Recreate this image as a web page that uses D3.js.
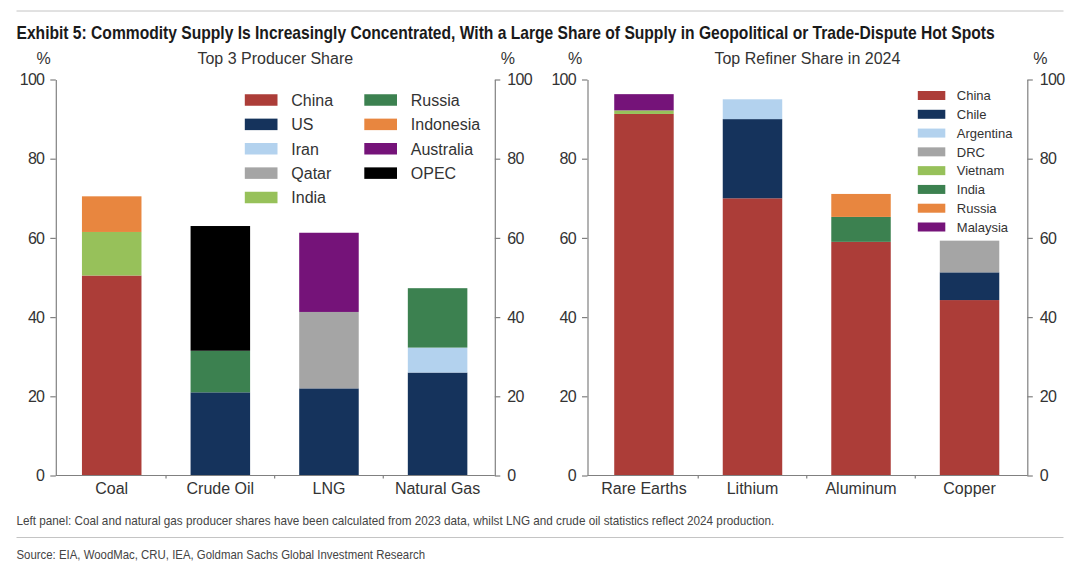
<!DOCTYPE html>
<html>
<head>
<meta charset="utf-8">
<script src="https://cdn.jsdelivr.net/npm/d3@7"></script>
<style>
  html, body { margin: 0; padding: 0; background: #fff; }
  svg { display: block; }
  text { font-family: "Liberation Sans", Arial, sans-serif; }
</style>
</head>
<body>
<div id="chart"></div>
<script>
var titleText = 'Exhibit 5: Commodity Supply Is Increasingly Concentrated, With a Large Share of Supply in Geopolitical or Trade-Dispute Hot Spots';
var noteText = 'Left panel: Coal and natural gas producer shares have been calculated from 2023 data, whilst LNG and crude oil statistics reflect 2024 production.';
var sourceText = 'Source: EIA, WoodMac, CRU, IEA, Goldman Sachs Global Investment Research';

var yTicks = [0, 20, 40, 60, 80, 100];

// left panel
var producerCategories = ['Coal', 'Crude Oil', 'LNG', 'Natural Gas'];
var producerNames = ['China', 'US', 'Iran', 'Qatar', 'India', 'Russia', 'Indonesia', 'Australia', 'OPEC'];
var coalStack = [['China', 50.5], ['India', 11], ['Indonesia', 9]];
var crudeStack = [['US', 21], ['Russia', 10.5], ['OPEC', 31.5]];
var lngStack = [['US', 22], ['Qatar', 19.3], ['Australia', 20]];
var gasStack = [['US', 26], ['Iran', 6.3], ['Russia', 15]];

// right panel
var refinerCategories = ['Rare Earths', 'Lithium', 'Aluminum', 'Copper'];
var refinerNames = ['China', 'Chile', 'Argentina', 'DRC', 'Vietnam', 'India', 'Russia', 'Malaysia'];
var rareStack = [['China', 91.3], ['Vietnam', 0.9], ['Malaysia', 4.1]];
var lithiumStack = [['China', 70], ['Chile', 20], ['Argentina', 5]];
var aluminumStack = [['China', 59], ['India', 6.3], ['Russia', 5.8]];
var copperStack = [['China', 44.3], ['Chile', 7], ['DRC', 8]];

var countryNames = ['China', 'US', 'Chile', 'Iran', 'Argentina', 'Qatar', 'DRC', 'India', 'Vietnam', 'Russia', 'Indonesia', 'Australia', 'Malaysia', 'OPEC'];
var countryColors = ['#ac3d38', '#15335c', '#15335c', '#b3d2ee', '#b3d2ee', '#a5a5a5', '#a5a5a5', '#97c15a', '#97c15a', '#3c8150', '#e8863f', '#751379', '#751379', '#000000'];

var width = 1080, height = 577;
var textColor = '#333';
var axisColor = '#808080';

// India and Russia change colour between the two panels
var leftColor = d3.scaleOrdinal().domain(countryNames).range(countryColors);
var rightColor = function(name) {
    if (name == 'India') return leftColor('Russia');
    if (name == 'Russia') return leftColor('Indonesia');
    return leftColor(name);
};

var svg = d3.select('#chart').append('svg')
    .attr('width', width)
    .attr('height', height);

function rule(y) {
    svg.append('line')
        .attr('x1', 16.5).attr('x2', 1063.5)
        .attr('y1', y).attr('y2', y)
        .style('stroke', '#c4c4c4')
        .style('stroke-width', 1);
}

// no condensed face available, so squeeze a smaller font to the measured length
function narrowText(str, x, y, size, tall, len, weight, color) {
    var t = svg.append('text')
        .style('font-size', size + 'px')
        .style('font-weight', weight)
        .style('fill', color)
        .text(str);
    var sx = len / t.node().getComputedTextLength();
    t.attr('transform', 'translate(' + x + ',' + y + ') scale(' + sx + ',' + tall + ')');
}

rule(11);
rule(537.5);
narrowText(titleText, 16.5, 39, 14, 1.28, 979, 'bold', '#1a1a1a');
narrowText(noteText, 16.5, 525, 12, 1.12, 758, 'normal', '#444');
narrowText(sourceText, 16.5, 559, 12, 1.12, 409, 'normal', '#444');

function drawPanel(opts) {
    var y = d3.scaleLinear().domain([0, 100]).range([475.5, 79.5]);
    var x = d3.scaleBand()
        .domain(opts.categories)
        .range(opts.bandRange)
        .paddingInner(0.452)
        .paddingOuter(0.226);

    // stacked bars
    opts.stacks.forEach(function(stack, i) {
        var total = 0;
        stack.forEach(function(part) {
            svg.append('rect')
                .attr('x', x(opts.categories[i]))
                .attr('y', y(total + part[1]))
                .attr('width', x.bandwidth())
                .attr('height', y(total) - y(total + part[1]))
                .style('fill', opts.color(part[0]));
            total += part[1];
        });
    });

    // value axes on both sides
    var axisLeft = svg.append('g')
        .attr('transform', 'translate(' + opts.left + ',0)')
        .call(d3.axisLeft(y).tickValues(yTicks).tickSize(5.5).tickSizeOuter(0).tickPadding(6));
    var axisRight = svg.append('g')
        .attr('transform', 'translate(' + opts.right + ',0)')
        .call(d3.axisRight(y).tickValues(yTicks).tickSize(5.5).tickSizeOuter(0).tickPadding(7));

    // category axis, ticks sit between the bars
    var axisBottom = svg.append('g')
        .attr('transform', 'translate(0,' + y(0) + ')')
        .call(d3.axisBottom(x).tickSize(0).tickSizeOuter(0).tickPadding(7));
    axisBottom.select('.domain').remove();
    axisBottom.append('line')
        .attr('x1', opts.left).attr('x2', opts.right);
    opts.categories.slice(1).forEach(function(c) {
        var tickX = x(c) - (x.step() - x.bandwidth()) / 2;
        axisBottom.append('line')
            .attr('x1', tickX).attr('x2', tickX)
            .attr('y1', 0).attr('y2', 3);
    });

    [axisLeft, axisRight, axisBottom].forEach(function(a) {
        a.selectAll('path, line').style('stroke', axisColor).style('stroke-width', 1.2);
        a.selectAll('text')
            .style('font-family', '"Liberation Sans", Arial, sans-serif')
            .style('font-size', '16px')
            .style('fill', textColor);
    });
    [axisLeft, axisRight].forEach(function(a) {
        a.selectAll('text').style('letter-spacing', '-0.7px');
    });

    // units and panel title
    [[opts.left - 12.3, '%'], [opts.right + 13, '%'], [(opts.left + opts.right) / 2, opts.title]].forEach(function(t) {
        svg.append('text')
            .attr('x', t[0]).attr('y', 64)
            .style('text-anchor', 'middle')
            .style('font-size', '16px')
            .style('fill', textColor)
            .text(t[1]);
    });

    // legend
    var rowY = d3.scalePoint().domain(d3.range(opts.legendRows)).range(opts.legendY);
    opts.names.forEach(function(name, i) {
        var col = Math.floor(i / opts.legendRows);
        var row = i % opts.legendRows;
        svg.append('rect')
            .attr('x', opts.legendX[col])
            .attr('y', rowY(row) - opts.swatchH / 2)
            .attr('width', opts.swatchW)
            .attr('height', opts.swatchH)
            .style('fill', opts.color(name));
        svg.append('text')
            .attr('x', opts.legendX[col] + opts.labelGap)
            .attr('y', rowY(row))
            .attr('dy', '0.36em')
            .style('font-size', opts.legendSize + 'px')
            .style('fill', textColor)
            .text(name);
    });
}

drawPanel({
    title: 'Top 3 Producer Share',
    left: 55.8, right: 494.8,
    bandRange: [57.4, 491.9],
    categories: producerCategories,
    stacks: [coalStack, crudeStack, lngStack, gasStack],
    names: producerNames,
    color: leftColor,
    legendRows: 5,
    legendY: [100, 197.5],
    legendX: [244.8, 364.3],
    swatchW: 32.7, swatchH: 11.5,
    labelGap: 46.5,
    legendSize: 16
});

drawPanel({
    title: 'Top Refiner Share in 2024',
    left: 587.5, right: 1027.3,
    bandRange: [589.7, 1023.8],
    categories: refinerCategories,
    stacks: [rareStack, lithiumStack, aluminumStack, copperStack],
    names: refinerNames,
    color: rightColor,
    legendRows: 8,
    legendY: [95.5, 227],
    legendX: [917.8],
    swatchW: 27.5, swatchH: 9,
    labelGap: 39,
    legendSize: 13
});
</script>
</body>
</html>
